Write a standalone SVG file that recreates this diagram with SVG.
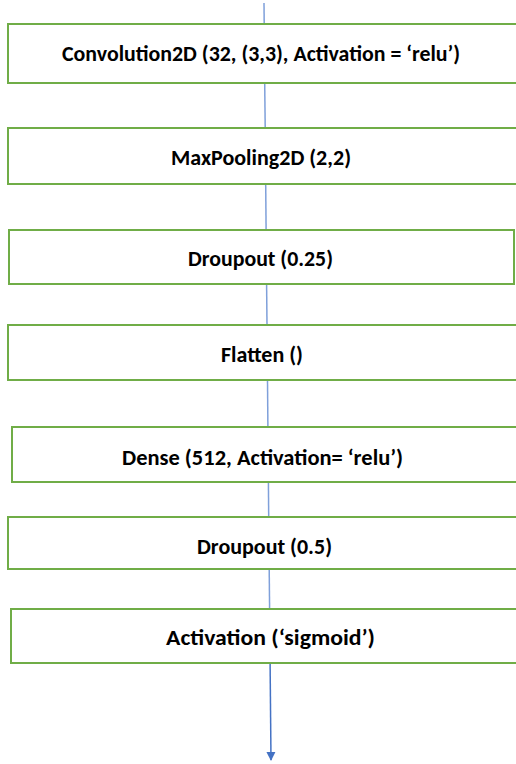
<svg xmlns="http://www.w3.org/2000/svg" width="516" height="764" viewBox="0 0 516 764">
<style>
.box{fill:#ffffff;stroke:#70AD47;stroke-width:2}
.lbl{font-family:Carlito,Lato,"Liberation Sans",sans-serif;font-weight:bold;font-size:23px;fill:#000000}
.con{stroke:#7FA0DA;stroke-width:1.5;fill:none}
.last{stroke:#4472C4;stroke-width:1.5;fill:none}
</style>
<defs>
<marker id="ah" markerWidth="10" markerHeight="10" refX="8" refY="5" orient="auto" markerUnits="userSpaceOnUse">
<path d="M0,0.5 L9,5 L0,9.5 Z" fill="#4472C4"/>
</marker>
</defs>
<rect width="516" height="764" fill="#ffffff"/>
<g id="connectors">
<line class="con" x1="264" y1="3" x2="264.2" y2="24"/>
<line class="con" x1="264.7" y1="83" x2="265.2" y2="128"/>
<line class="con" x1="265.7" y1="184" x2="266.1" y2="230"/>
<line class="con" x1="266.6" y1="284" x2="267" y2="325"/>
<line class="con" x1="267.5" y1="380" x2="267.9" y2="427"/>
<line class="con" x1="268.4" y1="482" x2="268.7" y2="517"/>
<line class="con" x1="269.2" y1="569" x2="269.6" y2="609"/>
<line class="last" x1="270.1" y1="663" x2="271" y2="760" marker-end="url(#ah)"/>
</g>
<g id="conv">
<rect class="box" x="8" y="24" width="512" height="59"/>
<text class="lbl" x="62" y="60.5" textLength="398" lengthAdjust="spacingAndGlyphs">Convolution2D (32, (3,3), Activation = ‘relu’)</text>
</g>
<g id="maxpool">
<rect class="box" x="8" y="128" width="512" height="56"/>
<text class="lbl" x="171" y="165" textLength="180" lengthAdjust="spacingAndGlyphs">MaxPooling2D (2,2)</text>
</g>
<g id="dropout1">
<rect class="box" x="9" y="230" width="505" height="54"/>
<text class="lbl" x="188" y="265.5" textLength="145" lengthAdjust="spacingAndGlyphs">Droupout (0.25)</text>
</g>
<g id="flatten">
<rect class="box" x="8" y="325" width="512" height="55"/>
<text class="lbl" x="221" y="362" textLength="82" lengthAdjust="spacingAndGlyphs">Flatten ()</text>
</g>
<g id="dense">
<rect class="box" x="12" y="427" width="508" height="55"/>
<text class="lbl" x="122" y="465" textLength="281" lengthAdjust="spacingAndGlyphs">Dense (512, Activation= ‘relu’)</text>
</g>
<g id="dropout2">
<rect class="box" x="8" y="517" width="512" height="52"/>
<text class="lbl" x="197" y="554" textLength="135" lengthAdjust="spacingAndGlyphs">Droupout (0.5)</text>
</g>
<g id="activation">
<rect class="box" x="11" y="609" width="509" height="54"/>
<text class="lbl" x="166" y="645" textLength="209" lengthAdjust="spacingAndGlyphs">Activation (‘sigmoid’)</text>
</g>
</svg>
